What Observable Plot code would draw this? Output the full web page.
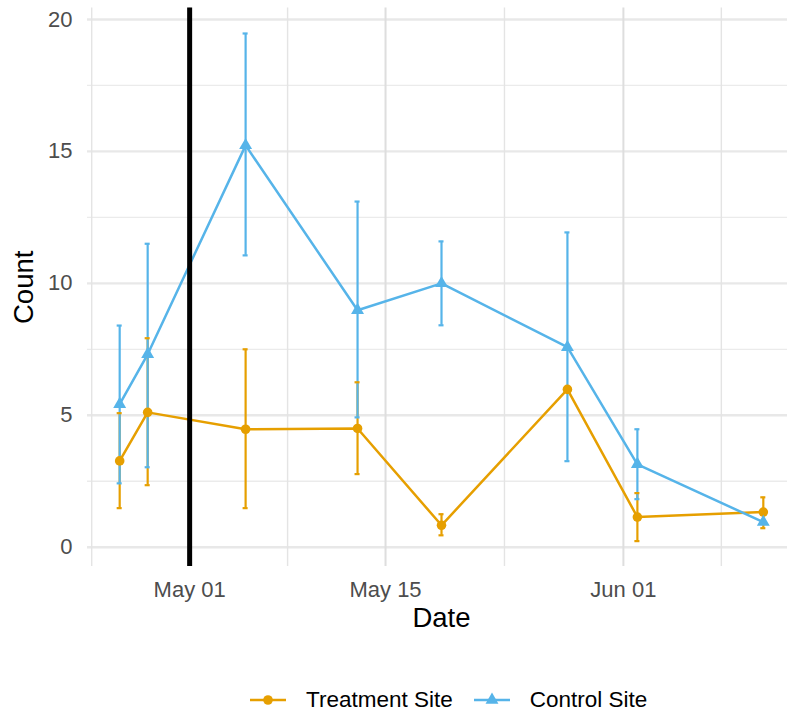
<!DOCTYPE html>
<html>
<head>
<meta charset="utf-8">
<script src="https://cdn.jsdelivr.net/npm/d3@7"></script>
<script src="https://cdn.jsdelivr.net/npm/@observablehq/plot@0.6"></script>
<style>
  body { margin: 0; background: #fff; font-family: "Liberation Sans", Arial, sans-serif; }
  #chart { position: relative; width: 787px; height: 712px; overflow: hidden; }
  #chart svg.plot { position: absolute; left: 0; top: 0; }
  .legend { position: absolute; left: 250px; top: 685px; height: 30px; display: flex; align-items: center; font-size: 22.5px; color: #000; white-space: nowrap; }
  .legend .key { display: block; }
  .legend .lab { margin-left: 20px; margin-right: 21px; line-height: 30px; }
</style>
</head>
<body>
<div id="chart"></div>
<script>
// Sampling dates and mean counts (with error bar limits) for each site
const dates = ["2023-04-26", "2023-04-28", "2023-05-05", "2023-05-13", "2023-05-19", "2023-05-28", "2023-06-02", "2023-06-11"];
const sites = ["Treatment Site", "Control Site"];
const siteColors = ["#E69F00", "#56B4E9"];
const siteSymbols = ["circle", "triangle"];

const treatment     = [3.27, 5.11, 4.47, 4.50, 0.83, 5.98, 1.14, 1.33];
const treatmentLow  = [1.48, 2.35, 1.48, 2.77, 0.45, 5.98, 0.23, 0.72];
const treatmentHigh = [5.08, 7.92, 7.50, 6.25, 1.25, 5.98, 2.05, 1.89];

const control       = [5.42, 7.31, 15.23, 8.98, 10.00, 7.58, 3.14, 0.95];
const controlLow    = [2.42, 3.03, 11.06, 4.92, 8.41, 3.26, 1.82, 0.95];
const controlHigh   = [8.40, 11.50, 19.47, 13.10, 11.59, 11.93, 4.47, 0.95];

// Intervention date and axis breaks
const interventionDate = "2023-05-01";
const xMajorBreaks = ["2023-05-01", "2023-05-15", "2023-06-01"];
const xMinorBreaks = ["2023-04-24", "2023-05-08", "2023-05-23T12:00", "2023-06-08"];
const yMajorBreaks = [0, 5, 10, 15, 20];
const yMinorBreaks = [2.5, 7.5, 12.5, 17.5];

const parse = s => new Date(s.length > 10 ? s + "Z" : s + "T00:00Z");
const DAY = 864e5;

const rows = [];
dates.forEach((d, i) => rows.push({site: sites[0], date: parse(d), value: treatment[i], low: treatmentLow[i], high: treatmentHigh[i]}));
dates.forEach((d, i) => rows.push({site: sites[1], date: parse(d), value: control[i], low: controlLow[i], high: controlHigh[i]}));

// error bar caps: 0.36 day wide
const capHalf = 0.18 * DAY;
rows.forEach(r => { r.capL = new Date(+r.date - capHalf); r.capR = new Date(+r.date + capHalf); });

// ggplot-like 5% expansion of the data range
const expand = ([a, b]) => { const p = (b - a) * 0.05; return [a - p, b + p]; };
const xExt = expand(d3.extent(rows, r => +r.date)).map(t => new Date(t));
const yExt = expand([d3.min(rows, r => r.low), d3.max(rows, r => r.high)]);

const W = 787, H = 680;
const tickColor = "#4d4d4d";

const plot = Plot.plot({
  width: W,
  height: H,
  marginLeft: 87,
  marginRight: -8, // the panel runs slightly past the right edge
  marginTop: 7.6,
  marginBottom: 114,
  style: {fontFamily: "'Liberation Sans', Arial, sans-serif", background: "#fff", overflow: "hidden"},
  x: {type: "utc", domain: xExt},
  y: {domain: yExt},
  color: {domain: sites, range: siteColors},
  symbol: {domain: sites, range: siteSymbols},
  marks: [
    // panel grid
    Plot.ruleY(yMinorBreaks, {stroke: "#ebebeb", strokeWidth: 1.3}),
    Plot.ruleY(yMajorBreaks, {stroke: "#e8e8e8", strokeWidth: 2.4}),
    Plot.ruleX(xMinorBreaks.map(parse), {stroke: "#e4e4e4", strokeWidth: 1.4}),
    Plot.ruleX(xMajorBreaks.map(parse), {stroke: "#dedede", strokeWidth: 2}),
    // series
    Plot.line(rows, {x: "date", y: "value", z: "site", stroke: "site", strokeWidth: 2.5}),
    Plot.ruleX(rows, {x: "date", y1: "low", y2: "high", stroke: "site", strokeWidth: 2.2}),
    Plot.ruleY(rows, {y: "low", x1: "capL", x2: "capR", stroke: "site", strokeWidth: 2.2}),
    Plot.ruleY(rows, {y: "high", x1: "capL", x2: "capR", stroke: "site", strokeWidth: 2.2}),
    Plot.dot(rows, {x: "date", y: "value", fill: "site", symbol: "site", r: 4.8, stroke: null}),
    // intervention line
    Plot.ruleX([parse(interventionDate)], {stroke: "#000", strokeWidth: 5}),
    // axes
    Plot.axisY(yMajorBreaks, {tickSize: 0, tickPadding: 15, fontSize: 22, color: tickColor, label: null}),
    Plot.axisX(xMajorBreaks.map(parse), {tickSize: 0, tickPadding: 15, fontSize: 22, color: tickColor, label: null, tickFormat: d3.utcFormat("%b %d")}),
    Plot.text(["Date"], {text: d => d, frameAnchor: "bottom", textAnchor: "middle", lineAnchor: "top", dy: 41, fontSize: 27.5, fill: "#000"}),
    Plot.text(["Count"], {text: d => d, frameAnchor: "left", textAnchor: "middle", rotate: -90, dx: -63, fontSize: 27.5, fill: "#000"})
  ]
});
plot.classList.add("plot");
const chart = document.getElementById("chart");
chart.appendChild(plot);

// legend below the plot: line + symbol keys
const legend = d3.select(chart).append("div").attr("class", "legend");
sites.forEach((s, i) => {
  const svg = legend.append("svg").attr("class", "key").attr("width", 36).attr("height", 20);
  svg.append("line").attr("x1", 0).attr("x2", 36).attr("y1", 10).attr("y2", 10)
    .attr("stroke", siteColors[i]).attr("stroke-width", 2.5);
  const sym = siteSymbols[i] === "circle" ? d3.symbolCircle : d3.symbolTriangle;
  svg.append("path").attr("transform", "translate(18,10)")
    .attr("d", d3.symbol(sym, Math.PI * 4.8 * 4.8)())
    .attr("fill", siteColors[i]);
  legend.append("span").attr("class", "lab").text(s);
});
</script>
</body>
</html>
